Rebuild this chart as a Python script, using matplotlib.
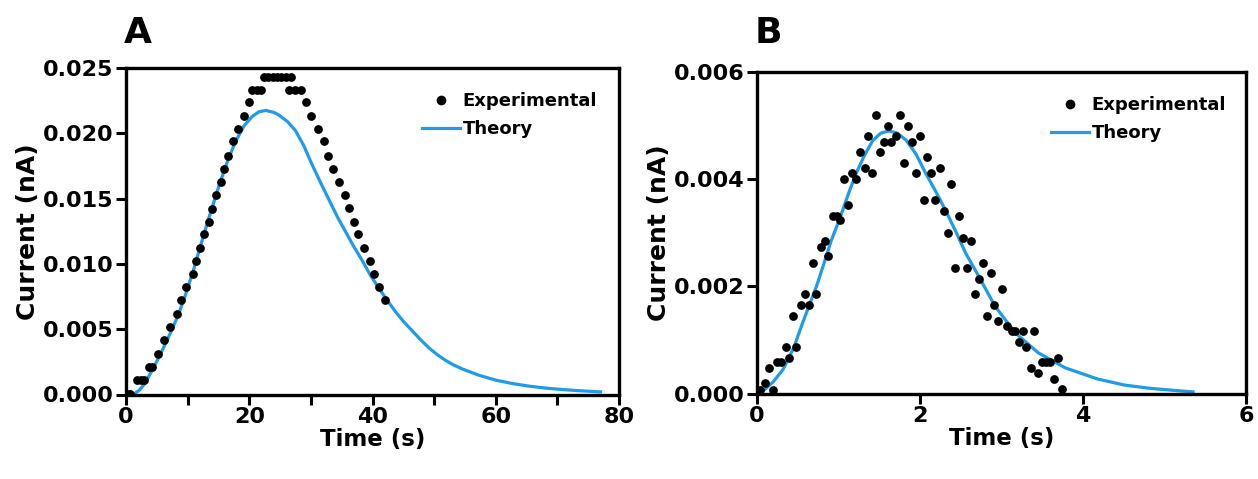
import matplotlib
matplotlib.use("Agg")
import matplotlib.pyplot as plt
from matplotlib.lines import Line2D

plt.rcParams['font.family'] = ['DejaVu Sans']
plt.rcParams['font.weight'] = 'bold'

BLUE = '#1f9be8'

# ---------------- Panel A data (current in 1e-3 nA) ----------------
expA_t = [0.5, 0.7, 1.8, 2.4, 2.9, 3.7, 4.3, 5.25, 6.2, 7.1, 8.2, 8.9, 9.7, 10.8,
          11.4, 12.0, 12.7, 13.5, 14.0, 14.6, 15.4, 15.9, 16.5, 17.3, 18.2, 19.2,
          20.0, 20.5, 21.2, 21.9, 22.4, 23.1, 23.8, 24.5, 25.2, 25.9, 26.8,
          26.5, 27.5, 28.4, 29.2, 30.1, 31.2, 32.1, 32.8, 33.6, 34.6, 35.5, 36.2,
          37.0, 37.7, 38.6, 39.6, 40.3, 41.1, 42.0]
expA_i = [0.05, 0.05, 1.1, 1.1, 1.1, 2.1, 2.1, 3.1, 4.2, 5.2, 6.2, 7.2, 8.2, 9.2,
          10.2, 11.2, 12.3, 13.2, 14.2, 15.3, 16.3, 17.3, 18.3, 19.4, 20.3, 21.3,
          22.4, 23.3, 23.3, 23.3, 24.3, 24.3, 24.3, 24.3, 24.3, 24.3, 24.3,
          23.3, 23.3, 23.3, 22.4, 21.3, 20.3, 19.4, 18.3, 17.3, 16.3, 15.3, 14.3,
          13.2, 12.3, 11.2, 10.2, 9.2, 8.2, 7.2]

thA_t = [1.5, 2.2, 3.0, 4.3, 5.5, 7.0, 8.5, 9.7, 11.0, 12.1, 13.5, 15.1, 16.5,
         17.8, 19.2, 20.5, 21.6, 22.7, 24.0, 24.8, 26.2, 27.5, 28.8, 30.2, 31.6,
         32.95, 34.3, 35.7, 37.0, 38.4, 39.7, 41.1, 42.4, 43.8, 45.1, 46.5, 47.8,
         49.2, 50.5, 51.9, 53.2, 54.6, 57.3, 60.0, 62.7, 65.4, 68.1, 70.8, 73.5,
         77.0]
thA_i = [0.1, 0.35, 0.8, 1.9, 3.0, 4.5, 6.1, 7.7, 9.6, 11.4, 13.6, 16.0, 17.9,
         19.4, 20.6, 21.3, 21.65, 21.75, 21.6, 21.4, 20.9, 20.2, 19.1, 17.6, 16.2,
         14.9, 13.6, 12.4, 11.3, 10.2, 9.1, 8.1, 7.2, 6.3, 5.55, 4.85, 4.2,
         3.55, 3.05, 2.6, 2.25, 1.95, 1.47, 1.1, 0.84, 0.64, 0.49, 0.38, 0.29,
         0.2]

# ---------------- Panel B data (current in 1e-3 nA) ----------------
expB_t = [0.04, 0.10, 0.20, 0.15, 0.25, 0.29, 0.35, 0.39, 0.48, 0.44, 0.54, 0.59,
          0.64, 0.73, 0.69, 0.78, 0.83, 0.87, 0.93, 0.98, 1.02, 1.12, 1.07, 1.17,
          1.22, 1.26, 1.32, 1.36, 1.41, 1.46, 1.51, 1.56, 1.61, 1.65, 1.70, 1.75,
          1.80, 1.85, 1.90, 1.95, 2.00, 2.05, 2.09, 2.14, 2.19, 2.24, 2.29, 2.34,
          2.38, 2.43, 2.48, 2.53, 2.58, 2.63, 2.67, 2.72, 2.77, 2.82, 2.87, 2.91,
          2.96, 3.01, 3.07, 3.13, 3.17, 3.21, 3.26, 3.30, 3.36, 3.40, 3.45, 3.50,
          3.54, 3.60, 3.64, 3.69, 3.74]
expB_i = [0.07, 0.19, 0.07, 0.48, 0.58, 0.58, 0.87, 0.67, 0.87, 1.44, 1.65, 1.85,
          1.65, 1.85, 2.43, 2.74, 2.84, 2.56, 3.31, 3.31, 3.23, 3.52, 4.01, 4.12,
          4.00, 4.51, 4.20, 4.80, 4.11, 5.19, 4.51, 4.70, 4.99, 4.70, 4.80, 5.19,
          4.31, 4.99, 4.70, 4.11, 4.80, 3.61, 4.41, 4.11, 3.61, 4.20, 3.41, 3.00,
          3.91, 2.34, 3.31, 2.90, 2.34, 2.84, 1.85, 2.14, 2.43, 1.44, 2.24, 1.65,
          1.35, 1.95, 1.26, 1.16, 1.16, 0.96, 1.16, 0.87, 0.48, 1.16, 0.38, 0.58,
          0.58, 0.58, 0.27, 0.67, 0.08]

thB_t = [0.0, 0.1, 0.2, 0.32, 0.45, 0.56, 0.65, 0.73, 0.82, 0.91, 1.01, 1.12,
         1.22, 1.32, 1.42, 1.52, 1.62, 1.72, 1.83, 1.95, 2.07, 2.19, 2.31, 2.44,
         2.56, 2.72, 2.92, 3.17, 3.45, 3.78, 4.18, 4.5, 4.8, 5.1, 5.35]
thB_i = [0.0, 0.08, 0.22, 0.45, 0.85, 1.32, 1.68, 2.0, 2.42, 2.85, 3.24, 3.72,
         4.12, 4.45, 4.72, 4.86, 4.9, 4.86, 4.73, 4.47, 4.11, 3.78, 3.43, 3.02,
         2.62, 2.19, 1.63, 1.13, 0.76, 0.48, 0.27, 0.16, 0.10, 0.06, 0.03]

fig = plt.figure(figsize=(12.58, 4.79), dpi=100)
W, H = 1258, 479


def axes_px(l, t, r, b):
    return fig.add_axes([l / W, 1 - b / H, (r - l) / W, (b - t) / H])


axA = axes_px(126, 68, 619, 394.5)
axB = axes_px(757, 72, 1246, 393.5)

TICK_FS = 16
XLAB_FS = 16.5
YLAB_FS = 18
LEG_FS = 13


def style(ax):
    for s in ax.spines.values():
        s.set_linewidth(2.4)
        s.set_color('black')
    ax.tick_params(axis='both', which='both', direction='out', width=2.2,
                   labelsize=TICK_FS, top=False, right=False, pad=1.5,
                   length=7.5)
    for lab in ax.get_xticklabels() + ax.get_yticklabels():
        lab.set_fontweight('bold')


# Panel A
axA.plot(thA_t, [v / 1000 for v in thA_i], color=BLUE, lw=2.3, zorder=2)
axA.plot(expA_t, [v / 1000 for v in expA_i], 'o', color='black', ms=6.3,
         mew=0, zorder=3)
axA.set_xlim(0, 80)
axA.set_ylim(0, 0.025)
axA.set_xticks([0, 20, 40, 60, 80])
axA.set_xticks([10, 30, 50, 70], minor=True)
axA.set_yticks([0, 0.005, 0.010, 0.015, 0.020, 0.025])
axA.set_yticklabels(['0.000', '0.005', '0.010', '0.015', '0.020', '0.025'])
style(axA)
axA.set_xlabel('Time (s)', fontsize=XLAB_FS, fontweight='bold', labelpad=1)
axA.set_ylabel('Current (nA)', fontsize=YLAB_FS, fontweight='bold', labelpad=2)

# Panel B
axB.plot(thB_t, [v / 1000 for v in thB_i], color=BLUE, lw=2.3, zorder=2)
axB.plot(expB_t, [v / 1000 for v in expB_i], 'o', color='black', ms=6.3,
         mew=0, zorder=3)
axB.set_xlim(0, 6)
axB.set_ylim(0, 0.006)
axB.set_xticks([0, 2, 4, 6])
axB.set_yticks([0, 0.002, 0.004, 0.006])
axB.set_yticklabels(['0.000', '0.002', '0.004', '0.006'])
style(axB)
axB.set_xlabel('Time (s)', fontsize=XLAB_FS, fontweight='bold', labelpad=1)
axB.set_ylabel('Current (nA)', fontsize=YLAB_FS, fontweight='bold', labelpad=2)

handles = [Line2D([], [], ls='none', marker='o', color='black', ms=7, mew=0),
           Line2D([], [], color=BLUE, lw=2.3)]
labels = ['Experimental', 'Theory']
for ax in (axA, axB):
    leg = ax.legend(handles, labels, loc='upper left', bbox_to_anchor=(0.575, 0.965),
                    frameon=False, fontsize=LEG_FS, handlelength=2.1,
                    handletextpad=0.15, labelspacing=0.55, borderpad=0.2)
    for t in leg.get_texts():
        t.set_fontweight('bold')

fig.text(138 / W, 1 - 33 / H, 'A', fontsize=26, fontweight='bold',
         ha='center', va='center')
fig.text(768 / W, 1 - 33 / H, 'B', fontsize=26, fontweight='bold',
         ha='center', va='center')

fig.savefig('out.png', dpi=100)
